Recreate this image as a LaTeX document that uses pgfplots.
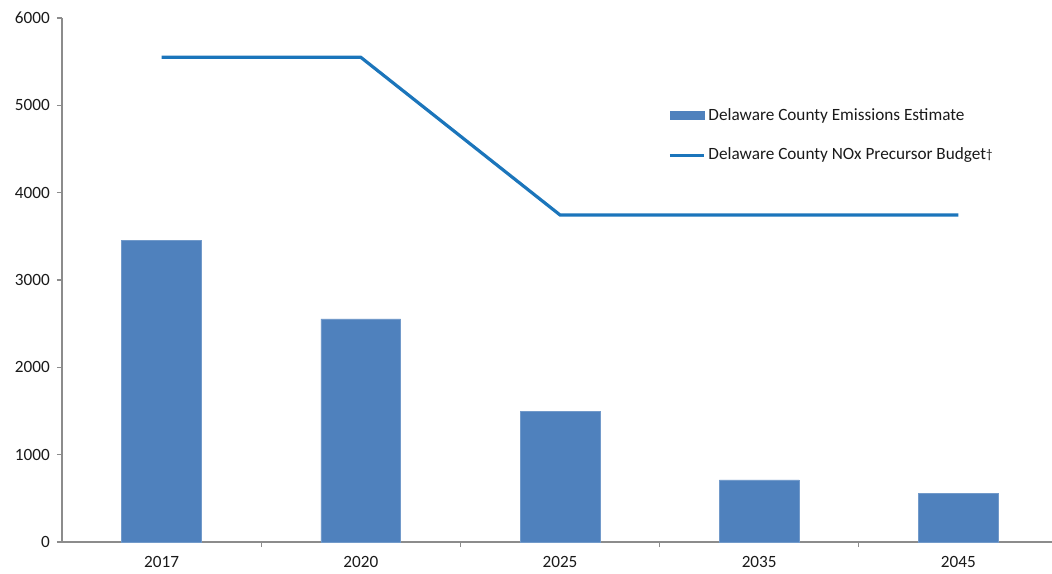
\documentclass[border=0pt]{standalone}
\usepackage{fontspec}
\setmainfont{Carlito}
\usepackage{pgfplots}
\pgfplotsset{compat=1.18}
\definecolor{barblue}{HTML}{4F81BD}
\definecolor{lineblue}{HTML}{1B75BB}
\definecolor{axgray}{HTML}{8C8C8C}
\definecolor{txt}{HTML}{1A1A1A}
\begin{document}
\fontsize{8.6pt}{10.5pt}\selectfont
\begin{tikzpicture}
\path[use as bounding box] (-31pt,-15.5pt) rectangle (495pt,271pt);
\begin{axis}[
  at={(0,0)}, anchor=south west,
  scale only axis, width=495pt, height=262pt,
  xmin=-0.5, xmax=4.47, ymin=0, ymax=6000,
  axis lines*=left,
  axis line style={axgray, line width=0.6pt},
  tick align=outside,
  major tick length=2.5pt, minor tick length=2.5pt,
  ytick={0,1000,...,6000},
  xtick={0,1,2,3,4},
  xticklabels={2017,2020,2025,2035,2045},
  major x tick style={draw=none},
  minor xtick={0.5,1.5,2.5,3.5},
  tick style={axgray, line width=0.6pt},
  ticklabel style={font=\fontsize{8.6pt}{10.5pt}\selectfont, text=txt},
  /pgf/number format/assume math mode=true,
  /pgf/number format/1000 sep={},
  xticklabel style={yshift=-1.5pt},
  yticklabel style={xshift=-0.5pt},
  legend cell align=left,
  legend style={draw=none, fill=none, at={(0.612,0.836)}, anchor=north west,
    font=\fontsize{8.6pt}{10.5pt}\selectfont, text=txt, row sep=8.5pt, inner sep=0pt,
    nodes={inner xsep=1.5pt}},
]
\addplot[ybar, bar width=0.4, fill=barblue, draw=barblue!80!white, line width=0.3pt,
  legend image code/.code={\fill[barblue] (0pt,-2pt) rectangle (17pt,2pt);}]
  coordinates {(0,3450) (1,2555) (2,1500) (3,710) (4,560)};
\addlegendentry{Delaware County Emissions Estimate}
\addplot[lineblue, line width=1.6pt, mark=none,
  legend image code/.code={\draw[lineblue, line width=1.6pt] (0pt,0pt) -- (17pt,0pt);}]
  coordinates {(0,5550) (1,5550) (2,3745) (3,3745) (4,3745)};
\addlegendentry{Delaware County NOx Precursor Budget\raisebox{0.5pt}{\fontsize{6.5pt}{7pt}\selectfont †}}
\end{axis}
\end{tikzpicture}
\end{document}
